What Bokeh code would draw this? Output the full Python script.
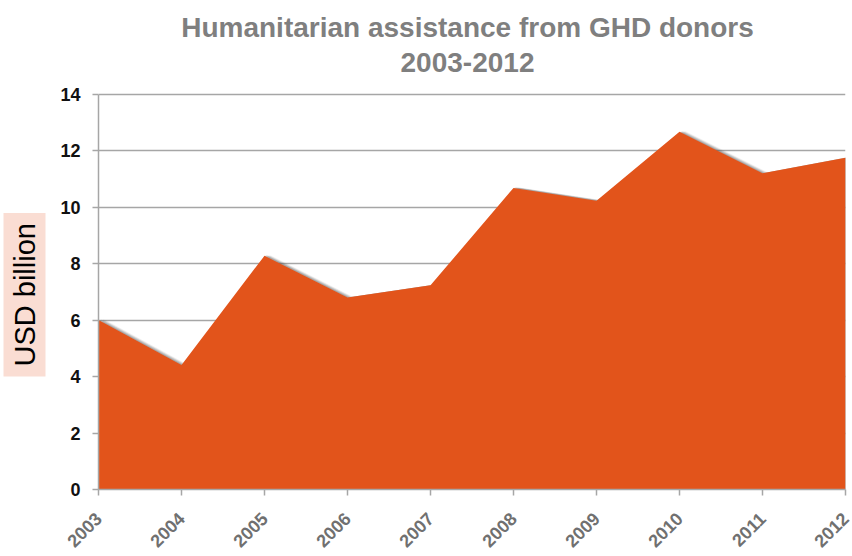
import numpy as np
from bokeh.plotting import figure
from bokeh.models import Range1d, FixedTicker, Title, Label
from bokeh.embed import file_html
from bokeh.resources import INLINE

years = [2003, 2004, 2005, 2006, 2007, 2008, 2009, 2010, 2011, 2012]
values = [6.0, 4.41, 8.28, 6.80, 7.23, 10.68, 10.22, 12.67, 11.20, 11.75]
y_ticks = [0, 2, 4, 6, 8, 10, 12, 14]
title_lines = ["Humanitarian assistance from GHD donors", "2003-2012"]
y_label = "USD billion"

AREA = "#E2541B"
GRID = "#A6A6A6"

W, H = 852, 556
ML, MR, MB = 98, 7, 65
TOP_PX = 94            # pixel row of the top tick (14)
fw = W - ML - MR
fh = H - MB            # frame spans from the canvas top down to the x axis
px_x = fw / (years[-1] - years[0])
px_y = (fh - TOP_PX) / y_ticks[-1]
y_top = fh / px_y

p = figure(width=W, height=H, output_backend="svg", toolbar_location=None,
           x_range=Range1d(years[0], years[-1]), y_range=Range1d(0, y_top),
           min_border_left=ML, min_border_right=MR, min_border_top=0,
           min_border_bottom=MB)
p.outline_line_color = None
p.background_fill_color = "white"
p.border_fill_color = "white"

# drop shadow layers (offset mostly to the right)
xs = np.array(years, dtype=float)
ys = np.array(values, dtype=float)
for dx, dy, a in [(6.0, 0.5, 0.08), (4.5, 0.5, 0.12), (3.0, 0.5, 0.18), (1.5, 0.3, 0.25)]:
    p.varea(x=xs + dx / px_x, y1=0, y2=ys + dy / px_y, fill_color="#505050", fill_alpha=a)

p.varea(x=years, y1=0, y2=values, fill_color=AREA)

# axes
p.xaxis.ticker = FixedTicker(ticks=years)
p.yaxis.ticker = FixedTicker(ticks=y_ticks)
p.yaxis.bounds = (y_ticks[0], y_ticks[-1])
for ax in (p.xaxis[0], p.yaxis[0]):
    ax.axis_line_color = GRID
    ax.axis_line_width = 1.5
    ax.major_tick_line_color = GRID
    ax.major_tick_line_width = 1.5
    ax.major_tick_out = 6
    ax.major_tick_in = 0
    ax.minor_tick_line_color = None
    ax.major_label_text_font = "Liberation Sans"
    ax.major_label_text_font_style = "bold"

p.yaxis.major_label_text_font_size = "18px"
p.yaxis.major_label_text_color = "#111111"
p.yaxis.major_label_standoff = 12
p.xaxis.major_label_text_font_size = "18px"
p.xaxis.major_label_text_color = "#707070"
p.xaxis.major_label_orientation = np.pi / 4
p.xaxis.major_label_standoff = 20

p.xgrid.grid_line_color = None
p.ygrid.grid_line_color = GRID
p.ygrid.grid_line_width = 1.5

# two-line title drawn inside the (extended) frame, above the top gridline
cx = years[0] + (467 - ML) / px_x
for line, py in zip(title_lines, [27, 62]):
    p.add_layout(Label(x=cx, y=(fh - py) / px_y, text=line,
                       text_align="center", text_baseline="middle",
                       text_font="Liberation Sans", text_font_style="bold",
                       text_font_size="28px", text_color="#7F7F7F"))

# y label with shaded box
p.add_layout(Title(text=y_label, align="left", vertical_align="top",
                   text_font="Liberation Sans",
                   text_font_style="normal", text_font_size="29px", text_color="#000000",
                   background_fill_color="#FADDD3", padding=(10, 5), standoff=0,
                   offset=113), "left")

open("out.html", "w").write(file_html(p, INLINE))
